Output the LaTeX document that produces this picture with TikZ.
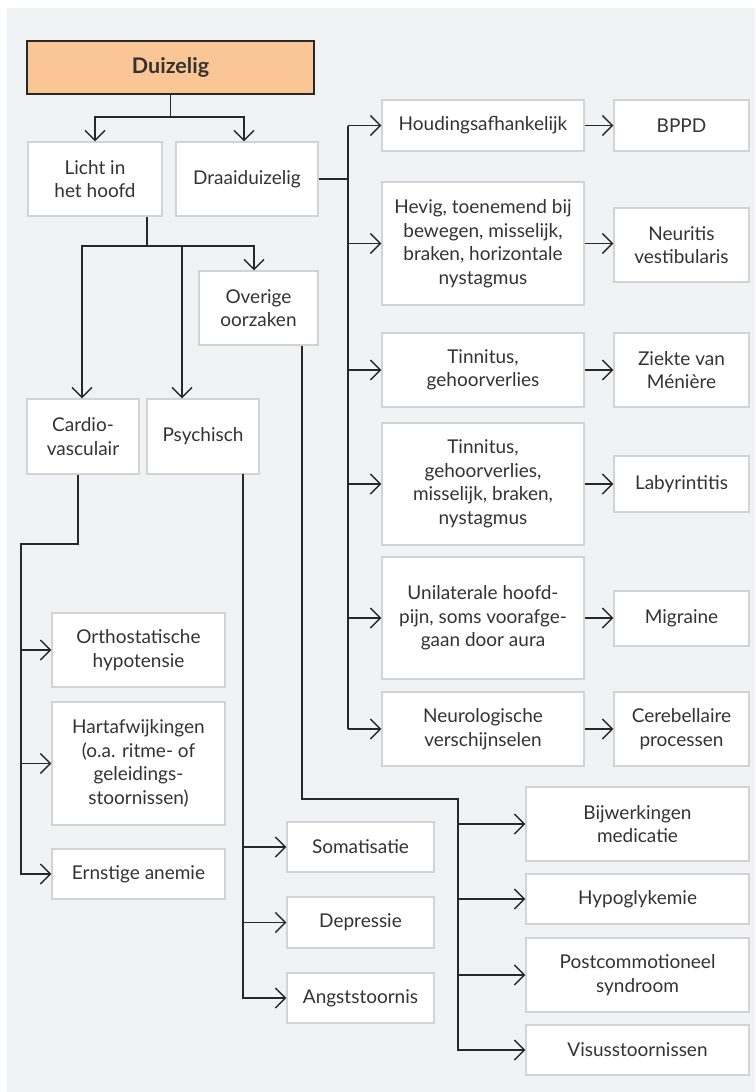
\documentclass[tikz,border=0pt]{standalone}
\usepackage{fontspec}
\setmainfont{Lato}
\usepackage{tikz}
\usetikzlibrary{arrows.meta}
\usepackage{xcolor}
\definecolor{dizzyorange}{RGB}{251,198,150}
\definecolor{dizzybg}{RGB}{241,242,244}
\definecolor{dizzyborder}{RGB}{211,211,211}
\definecolor{dizzytext}{RGB}{51,51,51}
\definecolor{dizzyline}{RGB}{40,40,40}

\begin{document}
\begin{tikzpicture}[x=1pt, y=-1pt,
    box/.style={draw=dizzyborder, line width=1.2pt, fill=white, rectangle, inner sep=0pt,
        align=center, text=dizzytext, font=\fontsize{19}{23.5}\selectfont},
    link/.style={draw=dizzyline, line width=1.4pt},
    >={Straight Barb[length=10pt,width=20pt]}]
    \useasboundingbox (0,0) rectangle (755,1092);
    \fill[dizzybg] (7,8) rectangle (755,1092);

    % top
    \node[draw=dizzyline, line width=1.3pt, fill=dizzyorange, rectangle, minimum width=287pt, minimum height=53pt,
        text=dizzytext, font=\fontsize{21.5}{24}\selectfont\bfseries] (duiz) at (170.5,67.5) {Duizelig};
    \node[box, minimum width=134pt, minimum height=74pt] (licht) at (95,179) {Licht in\\het hoofd};
    \node[box, minimum width=142pt, minimum height=74pt] (draai) at (247,179) {Draaiduizelig};

    % draaiduizelig branch
    \node[box, minimum width=202pt, minimum height=51pt] (houd) at (483,125.5) {Houdingsafhankelijk};
    \node[box, minimum width=135pt, minimum height=51pt] (bppd) at (681.5,125.5) {BPPD};
    \node[box, minimum width=202pt, minimum height=123pt] (hevig) at (483,243.5) {Hevig, toenemend bij\\bewegen, misselijk,\\braken, horizontale\\nystagmus};
    \node[box, minimum width=135pt, minimum height=74pt] (neurit) at (681.5,245) {Neuritis\\vestibularis};
    \node[box, minimum width=202pt, minimum height=74pt] (tinn) at (483,370) {Tinnitus,\\gehoorverlies};
    \node[box, minimum width=135pt, minimum height=74pt] (menier) at (681.5,370) {Ziekte van\\Ménière};
    \node[box, minimum width=202pt, minimum height=122pt] (tinnb) at (483,484) {Tinnitus,\\gehoorverlies,\\misselijk, braken,\\nystagmus};
    \node[box, minimum width=135pt, minimum height=56pt] (laby) at (681.5,484) {Labyrintitis};
    \node[box, minimum width=202pt, minimum height=122pt] (unil) at (483,618) {Unilaterale hoofd-\\pijn, soms voorafge-\\gaan door aura};
    \node[box, minimum width=135pt, minimum height=55pt] (migr) at (681.5,618.5) {Migraine};
    \node[box, minimum width=202pt, minimum height=74pt] (neuro) at (483,729) {Neurologische\\verschijnselen};
    \node[box, minimum width=135pt, minimum height=74pt] (cereb) at (681.5,729) {Cerebellaire\\processen};

    % licht in het hoofd branch
    \node[box, minimum width=119pt, minimum height=74pt] (overig) at (258.5,308) {Overige\\oorzaken};
    \node[box, minimum width=112pt, minimum height=75pt] (cardio) at (83,436.5) {Cardio-\\vasculair};
    \node[box, minimum width=112pt, minimum height=75pt] (psych) at (203,436.5) {Psychisch};

    \node[box, minimum width=173pt, minimum height=74pt] (ortho) at (138.5,650) {Orthostatische\\hypotensie};
    \node[box, minimum width=173pt, minimum height=123pt] (hart) at (138.5,763.5) {Hartafwijkingen\\(o.a. ritme- of\\geleidings-\\stoornissen)};
    \node[box, minimum width=173pt, minimum height=50pt] (ernst) at (138.5,874) {Ernstige anemie};

    \node[box, minimum width=147pt, minimum height=50pt] (somat) at (360.5,847) {Somatisatie};
    \node[box, minimum width=147pt, minimum height=51pt] (depr) at (360.5,922.5) {Depressie};
    \node[box, minimum width=147pt, minimum height=50pt] (angst) at (360.5,998) {Angststoornis};

    \node[box, minimum width=223pt, minimum height=74pt] (bijw) at (637.5,824) {Bijwerkingen\\medicatie};
    \node[box, minimum width=223pt, minimum height=50pt] (hypo) at (637.5,899) {Hypoglykemie};
    \node[box, minimum width=223pt, minimum height=74pt] (post) at (637.5,975) {Postcommotioneel\\syndroom};
    \node[box, minimum width=223pt, minimum height=50pt] (visus) at (637.5,1050) {Visusstoornissen};

    \coordinate (split) at (170.5,117);
    \coordinate (dtrunk) at (348,179);
    \coordinate (lsplit) at (147,246);
    \coordinate (cvbend) at (21,544);
    \coordinate (psline) at (243,474);
    \coordinate (ovbend) at (458,799);

    % connectors
    \draw[link] (duiz.south) -- (split);
    \draw[link, ->] (split) -| (licht.north);
    \draw[link, ->] (split) -| ([xshift=-3pt]draai.north);

    \draw[link] (draai.east) -- (dtrunk);
    \draw[link] (dtrunk |- houd.west) -- (dtrunk |- neuro.west);
    \draw[link, ->] (dtrunk |- houd.west) -- (houd.west);
    \draw[link, ->] (dtrunk |- hevig.west) -- (hevig.west);
    \draw[link, ->] (dtrunk |- tinn.west) -- (tinn.west);
    \draw[link, ->] (dtrunk |- tinnb.west) -- (tinnb.west);
    \draw[link, ->] (dtrunk |- unil.west) -- (unil.west);
    \draw[link, ->] (dtrunk |- neuro.west) -- (neuro.west);

    \draw[link, ->] (houd.east) -- (houd.east -| bppd.west);
    \draw[link, ->] (hevig.east) -- (hevig.east -| neurit.west);
    \draw[link, ->] (tinn.east) -- (tinn.east -| menier.west);
    \draw[link, ->] (tinnb.east) -- (tinnb.east -| laby.west);
    \draw[link, ->] (unil.east) -- (unil.east -| migr.west);
    \draw[link, ->] (neuro.east) -- (neuro.east -| cereb.west);

    \draw[link] (licht.south -| lsplit) -- (lsplit);
    \draw[link, ->] (lsplit) -| ([xshift=-1pt]cardio.north);
    \draw[link, ->] (lsplit) -| ([xshift=-21pt]psych.north);
    \draw[link, ->] (lsplit) -| ([xshift=-4.5pt]overig.north);

    \draw[link, ->] ([xshift=-5pt]cardio.south) |- (cvbend) |- (ernst.west);
    \draw[link, ->] (cvbend |- ortho.west) -- (ortho.west);
    \draw[link, ->] (cvbend |- hart.west) -- (hart.west);

    \draw[link, ->] (psline) |- (angst.west);
    \draw[link, ->] (psline |- somat.west) -- (somat.west);
    \draw[link, ->] (psline |- depr.west) -- (depr.west);

    \draw[link, ->] ([xshift=43.5pt]overig.south) |- (ovbend) |- (visus.west);
    \draw[link, ->] (ovbend |- bijw.west) -- (bijw.west);
    \draw[link, ->] (ovbend |- hypo.west) -- (hypo.west);
    \draw[link, ->] (ovbend |- post.west) -- (post.west);
\end{tikzpicture}
\end{document}
